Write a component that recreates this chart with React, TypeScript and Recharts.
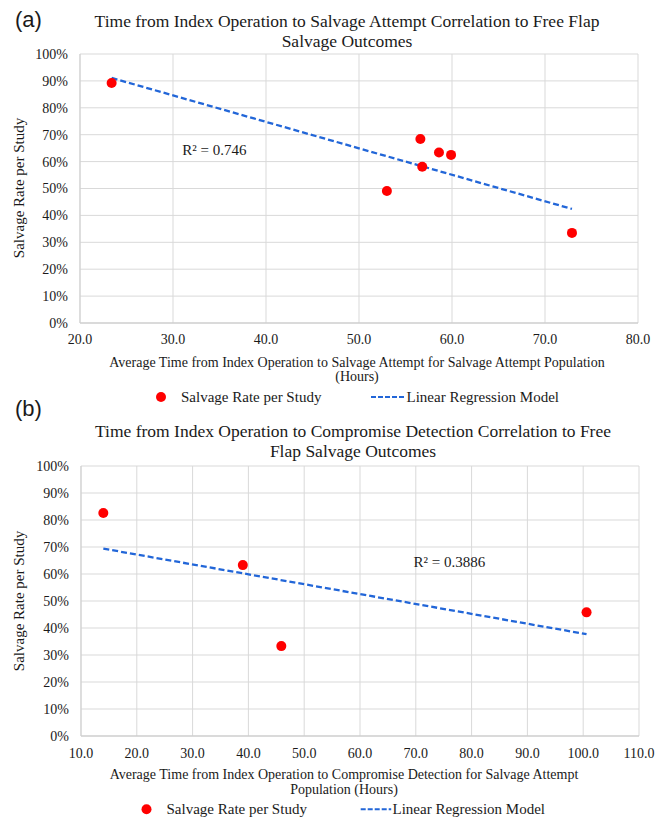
import React from "react";
import {
  ScatterChart,
  Scatter,
  XAxis,
  YAxis,
  CartesianGrid,
  ReferenceDot,
} from "recharts";

// panel (a): hours to salvage attempt vs salvage rate
const aHours = [23.4, 56.6, 58.6, 59.9, 56.8, 53.0, 72.9];
const aSalvage = [89.2, 68.4, 63.4, 62.5, 58.1, 49.1, 33.5];
const aTrendHours = [23.4, 72.9];
const aTrendRate = [91.1, 42.4];
const aTicksX = [20, 30, 40, 50, 60, 70, 80];
const aR2 = "R² = 0.746";
const aR2At = [31.0, 64.3];

// panel (b): hours to compromise detection vs salvage rate
const bHours = [14.0, 39.0, 45.9, 100.6];
const bSalvage = [82.6, 63.3, 33.3, 45.8];
const bTrendHours = [14.0, 100.6];
const bTrendRate = [69.4, 37.7];
const bTicksX = [10, 20, 30, 40, 50, 60, 70, 80, 90, 100, 110];
const bR2 = "R² = 0.3886";
const bR2At = [69.6, 64.5];

const ticksY = [0, 10, 20, 30, 40, 50, 60, 70, 80, 90, 100];

const SERIF = "'Liberation Serif', 'Times New Roman', Times, 'DejaVu Serif', serif";
const SANS = "'Liberation Sans', Arial, sans-serif";
const RED = "#ff0000";
const BLUE = "#2266d8";
const GRID = "#d9d9d9";
const TEXT = "#1a1a1a";

const toPoints = (xs: number[], ys: number[]) =>
  xs.map((x, i) => ({ x, y: ys[i] }));

const dot = (p: any) => <circle cx={p.cx} cy={p.cy} r={5} fill={RED} />;
const noShape = () => <g />;

interface PanelProps {
  hours: number[];
  salvage: number[];
  trendHours: number[];
  trendRate: number[];
  ticksX: number[];
  r2: string;
  r2At: number[];
  height: number;
  margin: { top: number; right: number; bottom: number; left: number };
  yWidth: number;
  xTickMargin: number;
}

function Panel(props: PanelProps) {
  const pts = toPoints(props.hours, props.salvage);
  const trend = toPoints(props.trendHours, props.trendRate);
  const tx = props.ticksX;
  return (
    <ScatterChart
      width={656}
      height={props.height}
      margin={props.margin}
      style={{ fontFamily: SERIF }}
    >
      <CartesianGrid stroke={GRID} strokeWidth={1} />
      <XAxis
        type="number"
        dataKey="x"
        domain={[tx[0], tx[tx.length - 1]]}
        ticks={tx}
        tickFormatter={(v: number) => v.toFixed(1)}
        tickLine={false}
        tickMargin={props.xTickMargin}
        axisLine={{ stroke: "#c8c8c8" }}
        tick={{ fontSize: 14, fill: TEXT, fontFamily: SERIF }}
        height={30}
        allowDataOverflow
      />
      <YAxis
        type="number"
        dataKey="y"
        domain={[0, 100]}
        ticks={ticksY}
        tickFormatter={(v: number) => `${v}%`}
        tickLine={false}
        tickMargin={6}
        axisLine={{ stroke: "#cfcfcf" }}
        tick={{ fontSize: 14, fill: TEXT, fontFamily: SERIF }}
        width={props.yWidth}
      />
      <Scatter
        data={trend}
        line={{ stroke: BLUE, strokeWidth: 2.3, strokeDasharray: "6 3" }}
        shape={noShape}
        legendType="none"
        isAnimationActive={false}
      />
      <Scatter data={pts} shape={dot} isAnimationActive={false} />
      <ReferenceDot
        x={props.r2At[0]}
        y={props.r2At[1]}
        r={0}
        fill="none"
        stroke="none"
        label={{
          value: props.r2,
          position: "right",
          offset: 0,
          fontSize: 15,
          fontFamily: SERIF,
          fill: TEXT,
        }}
      />
    </ScatterChart>
  );
}

function Overlay() {
  const serif = { style: { fontFamily: SERIF }, fill: TEXT };
  const sans = { style: { fontFamily: SANS }, fill: TEXT };
  return (
    <svg
      width={656}
      height={819}
      style={{ position: "absolute", left: 0, top: 0, pointerEvents: "none" }}
    >
      {/* panel (a) */}
      <text x={15} y={27} fontSize={22} {...sans}>
        (a)
      </text>
      <text x={347} y={27} fontSize={17.5} textAnchor="middle" {...serif}>
        Time from Index Operation to Salvage Attempt Correlation to Free Flap
      </text>
      <text x={347} y={46.5} fontSize={17.5} textAnchor="middle" {...serif}>
        Salvage Outcomes
      </text>
      <text transform="translate(23.5,188) rotate(-90)" fontSize={15} textAnchor="middle" {...serif}>
        Salvage Rate per Study
      </text>
      <text x={357} y={366.5} fontSize={14} textAnchor="middle" {...serif}>
        Average Time from Index Operation to Salvage Attempt for Salvage Attempt Population
      </text>
      <text x={357} y={381} fontSize={14} textAnchor="middle" {...serif}>
        (Hours)
      </text>
      <circle cx={161} cy={397} r={5} fill={RED} />
      <text x={181} y={402} fontSize={15} {...serif}>
        Salvage Rate per Study
      </text>
      <line x1={371} y1={397} x2={404} y2={397} stroke={BLUE} strokeWidth={2} strokeDasharray="5 2" />
      <text x={406.5} y={402} fontSize={15} {...serif}>
        Linear Regression Model
      </text>

      {/* panel (b) */}
      <text x={15} y={416} fontSize={22} {...sans}>
        (b)
      </text>
      <text x={353} y={437.3} fontSize={17.5} textAnchor="middle" {...serif}>
        Time from Index Operation to Compromise Detection Correlation to Free
      </text>
      <text x={353} y={457.3} fontSize={17.5} textAnchor="middle" {...serif}>
        Flap Salvage Outcomes
      </text>
      <text transform="translate(23.5,601) rotate(-90)" fontSize={15} textAnchor="middle" {...serif}>
        Salvage Rate per Study
      </text>
      <text x={344} y={778.5} fontSize={14} textAnchor="middle" {...serif}>
        Average Time from Index Operation to Compromise Detection for Salvage Attempt
      </text>
      <text x={344} y={793.5} fontSize={14} textAnchor="middle" {...serif}>
        Population (Hours)
      </text>
      <circle cx={146.5} cy={809.3} r={5} fill={RED} />
      <text x={166.5} y={814} fontSize={15} {...serif}>
        Salvage Rate per Study
      </text>
      <line x1={360.7} y1={809.3} x2={391.2} y2={809.3} stroke={BLUE} strokeWidth={2} strokeDasharray="5 2" />
      <text x={392.5} y={814} fontSize={15} {...serif}>
        Linear Regression Model
      </text>
    </svg>
  );
}

export default function App() {
  return (
    <div
      style={{
        position: "absolute",
        left: 0,
        top: 0,
        width: 656,
        height: 819,
        background: "#fff",
        overflow: "hidden",
        fontFamily: SERIF,
      }}
    >
      <div style={{ position: "absolute", left: 0, top: 0 }}>
        <Panel
          hours={aHours}
          salvage={aSalvage}
          trendHours={aTrendHours}
          trendRate={aTrendRate}
          ticksX={aTicksX}
          r2={aR2}
          r2At={aR2At}
          height={410}
          margin={{ top: 54, right: 18, bottom: 57, left: 0 }}
          yWidth={80}
          xTickMargin={5}
        />
      </div>
      <div style={{ position: "absolute", left: 0, top: 410 }}>
        <Panel
          hours={bHours}
          salvage={bSalvage}
          trendHours={bTrendHours}
          trendRate={bTrendRate}
          ticksX={bTicksX}
          r2={bR2}
          r2At={bR2At}
          height={409}
          margin={{ top: 56, right: 17, bottom: 53, left: 0 }}
          yWidth={81}
          xTickMargin={6}
        />
      </div>
      <Overlay />
    </div>
  );
}
